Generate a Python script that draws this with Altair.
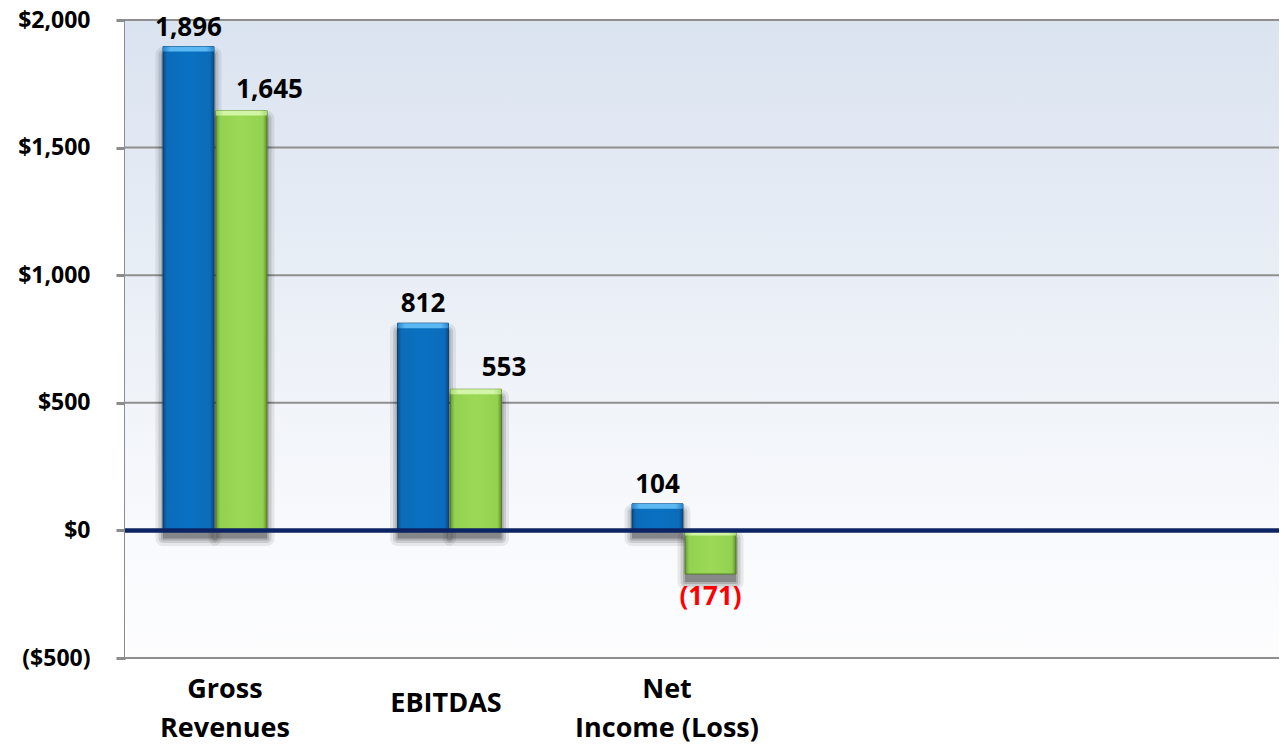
import altair as alt
import pandas as pd

# ---------------- data ----------------
categories = ["Gross Revenues", "EBITDAS", "Net Income (Loss)"]
spare_slots = [" ", "  "]
series = ["Series 1", "Series 2"]
series1_values = [1896, 812, 104]
series2_values = [1645, 553, -171]
category_labels = ["Gross\nRevenues", "EBITDAS", "Net\nIncome (Loss)"]
y_ticks = [-500, 0, 500, 1000, 1500, 2000]
zero_level = [0]

rows = []
for c, v1, v2 in zip(categories, series1_values, series2_values):
    rows.append({"category": c, "series": series[0], "value": v1})
    rows.append({"category": c, "series": series[1], "value": v2})
df = pd.DataFrame(rows)
grid_df = pd.DataFrame({"v": y_ticks})
zero_df = pd.DataFrame({"v": zero_level})
lab_df = pd.DataFrame({"label": category_labels})
bg_df = pd.DataFrame({"k": [0]})

# ---------------- layout ----------------
W, H = 1154, 638
x_step = 234.5
x_start = -27.25
x_range = [x_start, x_start + 5 * x_step]
group_w = 104.0
x_pi = 1 - group_w / x_step
lab_step = 221
lab_start = -10.5
lab_range = [lab_start, lab_start + 5 * lab_step]
FONT = "Open Sans"

yscale = alt.Scale(domain=[-500, 2000], nice=False, zero=False)
yaxis = alt.Axis(
    values=y_ticks, title=None, grid=False,
    domain=True, domainColor="#8c8c8c", domainWidth=3,
    ticks=True, tickColor="#8c8c8c", tickWidth=3, tickSize=9,
    labelFont=FONT, labelFontWeight="bold", labelFontSize=23, labelColor="black",
    labelPadding=26,
    labelExpr="datum.value < 0 ? '($' + format(-datum.value, ',') + ')' : '$' + format(datum.value, ',')",
)
xscale = alt.Scale(domain=categories + spare_slots, range=x_range,
                   paddingInner=x_pi, paddingOuter=x_pi / 2)
xoscale = alt.Scale(domain=series, paddingInner=0.04, paddingOuter=0)
labscale = alt.Scale(domain=category_labels + spare_slots, range=lab_range,
                     paddingInner=0, paddingOuter=0)

def grad(stops, horizontal=True):
    return alt.Gradient(
        gradient="linear",
        stops=[alt.GradientStop(color=c, offset=o) for o, c in stops],
        x1=0, y1=0, x2=1 if horizontal else 0, y2=0 if horizontal else 1,
    )

bg = alt.Chart(bg_df).mark_rect(
    fill=grad([(0, "#dae3f0"), (0.78, "#f7f9fc"), (1, "#fdfdfe")], horizontal=False)
).encode(x=alt.value(0), x2=alt.value(W), y=alt.value(0), y2=alt.value(H))

grid = alt.Chart(grid_df).mark_rule(color="#8f8f8f", strokeWidth=2).encode(
    y=alt.Y("v:Q", scale=yscale, axis=yaxis)
)

base = alt.Chart(df).encode(
    x=alt.X("category:N", scale=xscale, axis=None),
    xOffset=alt.XOffset("series:N", scale=xoscale),
    y=alt.Y("value:Q", scale=yscale, axis=yaxis),
)

shadows = []
for sw, op in [(0, 0.22), (4, 0.15), (9, 0.11), (15, 0.07)]:
    shadows.append(
        base.mark_bar(fill="black", stroke="black", strokeWidth=sw, opacity=op,
                      strokeJoin="round", xOffset=9, yOffset=8, y2Offset=7)
    )

blue_fill = grad([(0, "#0a4c86"), (0.08, "#0b6cba"), (0.5, "#0a71c2"), (0.92, "#0b6cba"), (1, "#0a4c86")])
green_fill = grad([(0, "#6a9c35"), (0.08, "#93d150"), (0.5, "#9bd957"), (0.92, "#93d150"), (1, "#5f8f2d")])
blue_top = grad([(0, "#2a86cf"), (0.15, "#5cb8f2"), (0.85, "#5cb8f2"), (1, "#2a86cf")])
green_top = grad([(0, "#a9dc72"), (0.15, "#d2f5a8"), (0.85, "#d2f5a8"), (1, "#a9dc72")])

blue_bars = base.transform_filter(alt.datum.series == series[0]).mark_bar(
    fill=blue_fill, stroke="#0a4272", strokeWidth=1
)
green_bars = base.transform_filter(alt.datum.series == series[1]).mark_bar(
    fill=green_fill, stroke="#557f28", strokeWidth=1
)

top_enc = dict(y=alt.Y("top:Q", scale=yscale, axis=yaxis), y2=alt.Y2("top"))
blue_strip = base.transform_filter(alt.datum.series == series[0]).transform_calculate(
    top="max(datum.value, 0)"
).mark_bar(fill=blue_top, y2Offset=5).encode(**top_enc)
green_strip = base.transform_filter(alt.datum.series == series[1]).transform_calculate(
    top="max(datum.value, 0)"
).mark_bar(fill=green_top, y2Offset=5).encode(**top_enc)

zero_line = alt.Chart(zero_df).mark_rule(color="#0c2463", strokeWidth=4.5).encode(
    y=alt.Y("v:Q", scale=yscale, axis=yaxis)
)

lab_calc = "datum.value < 0 ? '(' + format(-datum.value, ',') + ')' : format(datum.value, ',')"
txt = dict(font=FONT, fontWeight="bold", fontSize=26)
lab_blue = base.transform_filter(alt.datum.series == series[0]).transform_calculate(
    label=lab_calc
).mark_text(baseline="bottom", dy=-6, color="black", **txt).encode(text="label:N")
lab_green_pos = base.transform_filter(
    (alt.datum.series == series[1]) & (alt.datum.value >= 0)
).transform_calculate(label=lab_calc).mark_text(
    baseline="bottom", dy=-8, dx=28, color="black", **txt
).encode(text="label:N")
lab_neg = base.transform_filter(alt.datum.value < 0).transform_calculate(
    label=lab_calc
).mark_text(baseline="top", dy=10, color="#ff0000", **txt).encode(text="label:N")

xtxt = dict(font=FONT, fontWeight="bold", fontSize=27, color="black", align="center")
lab_x = alt.X("label:N", scale=labscale, axis=None)
xlab_two = alt.Chart(lab_df).transform_filter(
    "indexof(datum.label, '\\n') >= 0"
).mark_text(baseline="top", lineBreak="\n", lineHeight=39, **xtxt).encode(
    x=lab_x, y=alt.value(H + 19), text="label:N"
)
xlab_one = alt.Chart(lab_df).transform_filter(
    "indexof(datum.label, '\\n') < 0"
).mark_text(baseline="middle", **xtxt).encode(
    x=lab_x, y=alt.value(H + 46), text="label:N"
)

chart = alt.layer(
    bg, grid, *shadows, blue_bars, green_bars, blue_strip, green_strip,
    zero_line, lab_blue, lab_green_pos, lab_neg, xlab_two, xlab_one
).resolve_scale(x="independent").properties(
    width=W, height=H,
    autosize=alt.AutoSizeParams(type="none"),
    padding={"left": 117, "top": 12, "right": 0, "bottom": 86},
).configure_view(stroke=None)

chart.save("out.html", embed_options={"renderer": "svg", "actions": False})
